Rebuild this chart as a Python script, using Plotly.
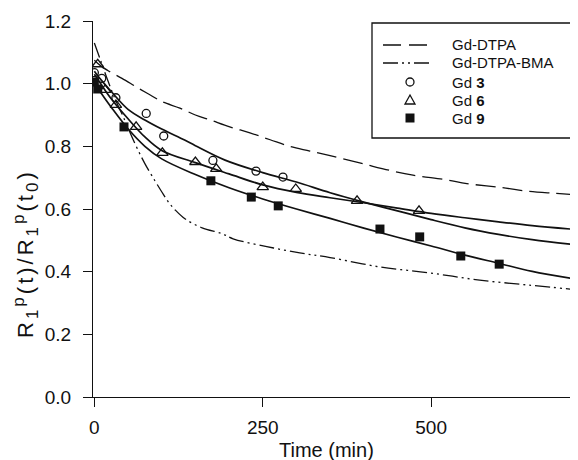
import plotly.graph_objects as go

# ---- data ----
dtpa_t = [0, 10, 20, 41, 65, 83, 100, 127, 150, 172, 201, 231, 261, 290, 320, 350, 394, 443, 473, 523, 553, 606, 646, 686, 718]
dtpa_v = [1.075, 1.056, 1.042, 1.017, 0.986, 0.964, 0.943, 0.922, 0.900, 0.884, 0.862, 0.843, 0.821, 0.800, 0.785, 0.770, 0.747, 0.721, 0.708, 0.693, 0.681, 0.668, 0.656, 0.650, 0.645]

bma_t = [0, 10, 20, 30, 43, 60, 75, 90, 100, 110, 120, 135, 160, 190, 206, 256, 305, 350, 424, 498, 572, 646, 718]
bma_v = [1.13, 1.07, 1.01, 0.955, 0.894, 0.810, 0.745, 0.690, 0.655, 0.622, 0.597, 0.568, 0.540, 0.521, 0.505, 0.480, 0.460, 0.445, 0.415, 0.396, 0.373, 0.357, 0.342]

fit3_t = [0, 10, 25, 50, 75, 100, 134, 150, 194, 250, 300, 350, 400, 450, 500, 550, 600, 650, 718]
fit3_v = [1.04, 1.012, 0.975, 0.918, 0.884, 0.855, 0.820, 0.802, 0.756, 0.716, 0.686, 0.652, 0.622, 0.594, 0.566, 0.540, 0.519, 0.502, 0.485]

fit6_t = [0, 10, 25, 50, 75, 100, 150, 200, 250, 300, 350, 400, 450, 500, 550, 600, 650, 718]
fit6_v = [1.03, 0.998, 0.952, 0.888, 0.830, 0.787, 0.748, 0.712, 0.677, 0.653, 0.636, 0.620, 0.603, 0.586, 0.572, 0.559, 0.547, 0.534]

fit9_t = [0, 10, 25, 50, 75, 100, 150, 200, 250, 300, 350, 400, 450, 500, 550, 600, 650, 718]
fit9_v = [1.0, 0.970, 0.925, 0.856, 0.800, 0.760, 0.710, 0.668, 0.632, 0.600, 0.570, 0.539, 0.510, 0.482, 0.453, 0.427, 0.401, 0.375]

gd3_t = [0, 11, 32, 77, 103, 176, 240, 280]
gd3_v = [1.035, 1.017, 0.955, 0.905, 0.833, 0.755, 0.721, 0.702]

gd6_t = [5, 16, 32, 62, 101, 150, 181, 250, 299, 390, 482]
gd6_v = [1.062, 0.980, 0.932, 0.862, 0.779, 0.750, 0.728, 0.670, 0.664, 0.626, 0.594]

gd9_t = [0, 5, 44, 173, 233, 273, 424, 483, 544, 601]
gd9_v = [1.005, 0.983, 0.862, 0.690, 0.638, 0.610, 0.536, 0.511, 0.450, 0.424]

x_ticks = [0, 250, 500]
y_ticks = [0.0, 0.2, 0.4, 0.6, 0.8, 1.0, 1.2]

legend_names = ["Gd-DTPA", "Gd-DTPA-BMA", "Gd <b>3</b>", "Gd <b>6</b>", "Gd <b>9</b>"]

FONT = "Liberation Sans, Arial, Helvetica, sans-serif"
BLACK = "#111111"
DASH_DTPA = "20px,7px"
DASH_BMA = "15px,4px,2px,4px,2px,4px"

fig = go.Figure()

fig.add_trace(go.Scatter(x=dtpa_t, y=dtpa_v, mode="lines", name=legend_names[0],
                         line=dict(color=BLACK, width=1.3, dash=DASH_DTPA, shape="spline")))
fig.add_trace(go.Scatter(x=bma_t, y=bma_v, mode="lines", name=legend_names[1],
                         line=dict(color=BLACK, width=1.3, dash=DASH_BMA, shape="spline")))
for tt, vv in [(fit3_t, fit3_v), (fit6_t, fit6_v), (fit9_t, fit9_v)]:
    fig.add_trace(go.Scatter(x=tt, y=vv, mode="lines", showlegend=False,
                             line=dict(color=BLACK, width=1.7, shape="spline")))

fig.add_trace(go.Scatter(x=gd3_t, y=gd3_v, mode="markers", name=legend_names[2],
                         marker=dict(symbol="circle-open", size=8, color=BLACK, line=dict(width=1.3))))
fig.add_trace(go.Scatter(x=gd6_t, y=gd6_v, mode="markers", name=legend_names[3],
                         marker=dict(symbol="triangle-up-open", size=10, color=BLACK, line=dict(width=1.3))))
fig.add_trace(go.Scatter(x=gd9_t, y=gd9_v, mode="markers", name=legend_names[4],
                         marker=dict(symbol="square", size=9, color=BLACK)))

# ---- hand-drawn legend box (paper coordinates derived from pixel layout) ----
L, T, PW, PH = 93, 21, 485, 376
def px(xp):
    return (xp - L) / PW
def py(yp):
    return (T + PH - yp) / PH

shapes = [
    dict(type="rect", xref="paper", yref="paper", x0=px(372), x1=px(577), y0=py(138), y1=py(23),
         line=dict(color=BLACK, width=1.3), fillcolor="white", layer="above"),
    dict(type="line", xref="paper", yref="paper", x0=px(383), x1=px(432), y0=py(45), y1=py(45),
         line=dict(color=BLACK, width=1.3, dash="18px,8px"), layer="above"),
    dict(type="line", xref="paper", yref="paper", x0=px(383), x1=px(432), y0=py(63), y1=py(63),
         line=dict(color=BLACK, width=1.3, dash=DASH_BMA), layer="above"),
    dict(type="circle", xref="paper", yref="paper", xsizemode="pixel", ysizemode="pixel",
         xanchor=px(410), yanchor=py(82), x0=-4, x1=4, y0=-4, y1=4,
         line=dict(color=BLACK, width=1.3), layer="above"),
    dict(type="path", xref="paper", yref="paper", xsizemode="pixel", ysizemode="pixel",
         xanchor=px(410), yanchor=py(100), path="M-5,-4 L5,-4 L0,5 Z",
         line=dict(color=BLACK, width=1.3), layer="above"),
    dict(type="rect", xref="paper", yref="paper", xsizemode="pixel", ysizemode="pixel",
         xanchor=px(410), yanchor=py(118), x0=-4.5, x1=4.5, y0=-4.5, y1=4.5,
         line=dict(color=BLACK, width=0), fillcolor=BLACK, layer="above"),
]

legend_rows = [45, 63, 82, 100, 118]
annotations = [dict(text=name, xref="paper", yref="paper", x=px(450), y=py(row),
                    xanchor="left", yanchor="middle", showarrow=False,
                    font=dict(size=15, family=FONT, color=BLACK))
               for name, row in zip(legend_names, legend_rows)]

SS = "<span style='font-size:17px'>"
annotations.append(dict(
    text="<span style='letter-spacing:3px'>R<sub>" + SS + "1</span></sub><sup>" + SS + "p</span></sup>(t)/"
         "R<sub>" + SS + "1</span></sub><sup>" + SS + "p</span></sup>"
         "(t<sub>" + SS + "0</span></sub>)</span>",
    xref="paper", yref="paper", x=px(25), y=py(254),
    xanchor="center", yanchor="middle", textangle=-90,
    showarrow=False, font=dict(size=22, family=FONT, color=BLACK)))

annotations.append(dict(
    text="Time (min)", xref="paper", yref="paper", x=px(326), y=py(450),
    xanchor="center", yanchor="middle", showarrow=False,
    font=dict(size=20, family=FONT, color=BLACK)))

# the page adds an 8px body margin, so the figure is 8px smaller than the window
fig.update_layout(
    width=570, height=452,
    margin=dict(l=85, r=0, t=13, b=63),
    paper_bgcolor="white", plot_bgcolor="white",
    font=dict(family=FONT, size=19, color=BLACK),
    showlegend=False,
    shapes=shapes,
    annotations=annotations,
    xaxis=dict(range=[-2, 718], tickvals=x_ticks, ticks="outside", ticklen=9,
               ticklabelstandoff=4,
               tickcolor=BLACK, showline=True, linecolor=BLACK, linewidth=1,
               showgrid=False, zeroline=False, automargin=False),
    yaxis=dict(range=[0, 1.2], tickvals=y_ticks, tickformat=".1f", ticks="outside",
               ticklen=9, ticklabelstandoff=8,
               tickcolor=BLACK, showline=True, linecolor=BLACK, linewidth=1,
               showgrid=False, zeroline=False, automargin=False),
)

fig.write_html("out.html")
